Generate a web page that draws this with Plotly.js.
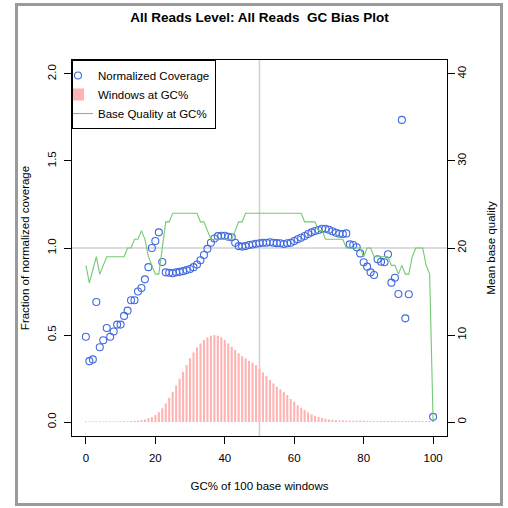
<!DOCTYPE html>
<html>
<head>
<meta charset="utf-8">
<script src="https://cdn.plot.ly/plotly-3.0.1.min.js"></script>
<style>
  html, body { margin: 0; padding: 0; background: #ffffff; }
  #wrap { position: relative; width: 508px; height: 508px; }
  #chart { position: absolute; left: 0; top: 0; width: 508px; height: 508px; }
  #frame { position: absolute; left: 15px; top: 3px; width: 482px; height: 497px;
           border: 3px solid #9a9a9a; pointer-events: none; }
</style>
</head>
<body>
<div id="wrap">
  <div id="chart"></div>
  <div id="frame"></div>
</div>
<script>
// ---- data ----
const gcPercent = [0,1,2,3,4,5,6,7,8,9,10,11,12,13,14,15,16,17,18,19,20,21,22,23,24,25,26,27,28,29,30,31,32,33,34,35,36,37,38,39,40,41,42,43,44,45,46,47,48,49,50,51,52,53,54,55,56,57,58,59,60,61,62,63,64,65,66,67,68,69,70,71,72,73,74,75,76,77,78,79,80,81,82,83,84,85,86,87,88,89,90,91,92,93,94,95,96,97,98,99,100];

const normalizedCoverage = [0.49,0.35,0.36,0.69,0.43,0.47,0.54,0.49,0.52,0.56,0.56,0.61,0.64,0.70,0.70,0.75,0.77,0.82,0.89,1.00,1.04,1.09,0.92,0.86,0.858,0.855,0.86,0.863,0.867,0.873,0.879,0.89,0.905,0.93,0.96,0.995,1.03,1.055,1.068,1.07,1.07,1.065,1.062,1.03,1.011,1.008,1.011,1.017,1.02,1.024,1.027,1.030,1.030,1.033,1.030,1.028,1.027,1.023,1.027,1.030,1.040,1.050,1.059,1.069,1.080,1.090,1.098,1.103,1.111,1.111,1.105,1.096,1.088,1.082,1.080,1.084,1.021,1.017,1.004,0.969,0.918,0.893,0.860,0.845,0.935,0.921,0.918,0.964,0.801,0.829,0.736,1.736,0.596,0.734,null,null,null,null,null,null,0.03];

const windowsAtGC = [0.004,0.004,0.004,0.004,0.004,0.004,0.004,0.004,0.004,0.004,0.004,0.005,0.005,0.006,0.007,0.008,0.011,0.015,0.021,0.029,0.040,0.057,0.079,0.107,0.140,0.174,0.211,0.249,0.289,0.328,0.366,0.400,0.429,0.452,0.471,0.487,0.496,0.500,0.496,0.487,0.471,0.452,0.433,0.414,0.395,0.379,0.366,0.352,0.341,0.328,0.308,0.285,0.264,0.241,0.222,0.203,0.188,0.172,0.155,0.132,0.117,0.096,0.082,0.069,0.056,0.044,0.036,0.029,0.023,0.019,0.015,0.013,0.011,0.010,0.010,0.009,0.008,0.008,0.008,0.008,0.008,0.006,0.006,0.006,0.006,0.006,0.006,0.006,0.006,0.006,0.006,0.006,0.006,0.006,0.006,0.006,0.006,0.006,0.006,0.006,0.006];

const baseQuality = [18,16,17.5,19,17,18,19,19,19,19,19,19,20,20,21,21,22,21,19,18,17,17,20,23,23,24,24,24,24,24,24,24,24,23,23,22,21,21,21,21,21,21,21,22,23,23,24,24,24,24,24,24,24,24,24,24,24,24,24,24,24,24,24,23,23,23,23,22,22,21,21,21,21,21,21,20,20,20,20,20,19,20,20,19,19,19,19,19,18,18,17,18,17,17,19,20,20,20,18,17,0];

const xTicks = [0,20,40,60,80,100];
const yTicks = [0,0.5,1.0,1.5,2.0];
const yTickText = ["0.0","0.5","1.0","1.5","2.0"];
const y2Ticks = [0,10,20,30,40];
const refGC = 50;      // vertical reference line
const refCoverage = 1; // horizontal reference line

const FONT = "Liberation Sans, Arial, Helvetica, sans-serif";

const traces = [
  {
    type: "scatter", mode: "markers", name: "Normalized Coverage",
    x: gcPercent, y: normalizedCoverage,
    marker: { symbol: "circle-open", size: 7, color: "#4169e1", line: { width: 1.1, color: "#4169e1" } },
    xaxis: "x", yaxis: "y", cliponaxis: false
  },
  {
    type: "bar", name: "Windows at GC%",
    x: gcPercent, y: windowsAtGC, width: 0.6,
    marker: { color: "#ffb3b3", line: { width: 0 } },
    xaxis: "x", yaxis: "y"
  },
  {
    type: "scatter", mode: "lines", name: "Base Quality at GC%",
    x: gcPercent, y: baseQuality,
    line: { color: "#72c972", width: 1.1 },
    xaxis: "x", yaxis: "y2"
  }
];

const layout = {
  width: 508, height: 508,
  margin: { l: 72, r: 61, t: 60, b: 72, pad: 0 },
  paper_bgcolor: "#ffffff", plot_bgcolor: "#ffffff",
  font: { family: FONT, size: 11.5, color: "#000000" },
  showlegend: true,
  title: {
    text: "All Reads Level: All Reads \u00a0GC Bias Plot",
    font: { family: FONT, size: 13.5, color: "#000000", weight: "bold" },
    x: 0.5, xref: "paper", xanchor: "center",
    y: 1 - 17 / 508, yref: "container", yanchor: "middle"
  },
  xaxis: {
    range: [-4, 104], tickmode: "array", tickvals: xTicks,
    ticks: "outside", ticklen: 7, tickwidth: 1, tickcolor: "#000",
    showgrid: false, zeroline: false,
    showline: true, mirror: true, linecolor: "#000", linewidth: 1,
    ticklabelstandoff: 4,
    title: { text: "GC% of 100 base windows", font: { family: FONT, size: 11.5 }, standoff: 19 }
  },
  yaxis: {
    range: [-0.08, 2.08], tickmode: "array", tickvals: yTicks, ticktext: yTickText,
    tickangle: -90,
    ticks: "outside", ticklen: 7, tickwidth: 1, tickcolor: "#000",
    showgrid: false, zeroline: false,
    showline: true, mirror: true, linecolor: "#000", linewidth: 1,
    ticklabelstandoff: 3,
    title: { text: "Fraction of normalized coverage", font: { family: FONT, size: 11.5 }, standoff: 14 }
  },
  yaxis2: {
    range: [-1.6, 41.6], overlaying: "y", side: "right",
    tickmode: "array", tickvals: y2Ticks, tickangle: -90,
    ticks: "outside", ticklen: 7, tickwidth: 1, tickcolor: "#000",
    showgrid: false, zeroline: false, showline: false,
    ticklabelstandoff: -3,
    title: { text: "Mean base quality", font: { family: FONT, size: 11.5 }, standoff: 20 }
  },
  legend: {
    x: 0, y: 1, xref: "paper", yref: "paper", xanchor: "left", yanchor: "top",
    bgcolor: "#ffffff", bordercolor: "#000000", borderwidth: 1,
    font: { family: FONT, size: 11.5 }, itemwidth: 30, tracegroupgap: 0,
    indentation: -15,
    traceorder: "normal"
  },
  shapes: [
    { type: "line", xref: "x", yref: "paper", x0: refGC, x1: refGC, y0: 0, y1: 1,
      line: { color: "#d0d0d0", width: 1.5 }, layer: "below" },
    { type: "line", xref: "paper", yref: "y", x0: 0, x1: 1, y0: refCoverage, y1: refCoverage,
      line: { color: "#d0d0d0", width: 1.5 }, layer: "below" }
  ]
};

Plotly.newPlot("chart", traces, layout, { displayModeBar: false, staticPlot: true });
</script>
</body>
</html>
